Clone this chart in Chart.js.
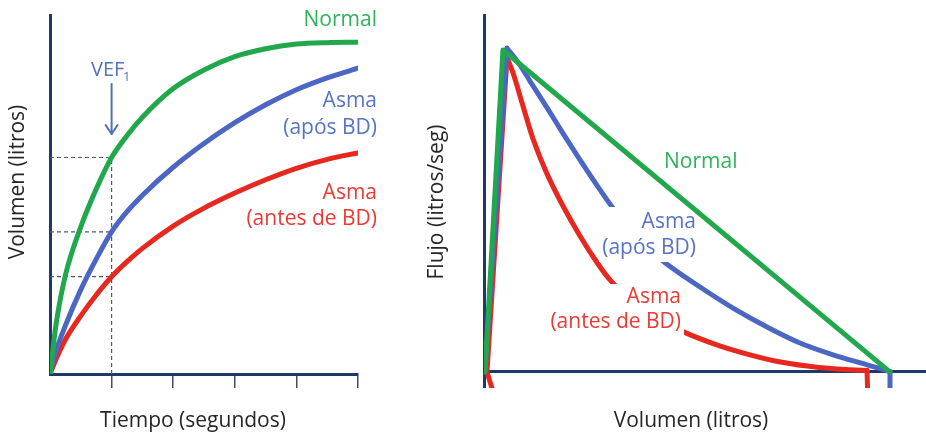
<!DOCTYPE html>
<html><head><meta charset="utf-8">
<script src="https://cdn.jsdelivr.net/npm/chart.js@4.4.1/dist/chart.umd.min.js"></script>
<style>
html,body{margin:0;padding:0;background:#fff;}
#wrap{position:relative;width:926px;height:434px;overflow:hidden;background:#fff;}
#c1{position:absolute;left:0;top:0;}
#c2{position:absolute;left:420px;top:0;}
</style></head><body>
<div id="wrap">
<canvas id="c1" width="420" height="434"></canvas>
<canvas id="c2" width="506" height="434"></canvas>
</div>
<script>
// ---------- Left panel: volume-time ----------
const timeSec     = [0, 0.1, 0.25, 0.5, 0.75, 1, 1.25, 1.5, 2, 2.5, 3, 3.5, 4, 4.5, 5];
const volNormal   = [0, 14, 27.5, 41, 51.5, 60.3, 66.4, 71.5, 79.5, 84.7, 88.4, 90.6, 91.9, 92.3, 92.4];
const volAsmaPost = [0, 6.5, 13.5, 23.5, 32, 39.6, 45.2, 49.8, 57.6, 64.2, 70, 75, 79.2, 82.5, 85.2];
const volAsmaPre  = [0, 4.2, 9.6, 16.2, 22, 27.1, 31.3, 35, 41.2, 46.2, 50.4, 54.1, 57.3, 59.8, 61.6];
const timeTicks   = [0, 1, 2, 3, 4, 5];
const fev1Time    = 1;

// ---------- Right panel: flow-volume ----------
const fvNormalVol    = [0.012, 0.236, 5.05];
const fvNormalFlow   = [0, 9.02, 0];
const fvPostRiseVol  = [0.012, 0.286];
const fvPostRiseFlow = [0, 9.07];
const fvPostVol      = [0.286, 0.423, 0.572, 0.78, 0.987, 1.195, 1.402, 1.605, 1.817, 2.066, 2.277, 2.688, 3.099, 3.522, 3.932, 4.343, 4.766, 5.052];
const fvPostFlow     = [9.07, 8.68, 8.15, 7.42, 6.67, 5.94, 5.24, 4.59, 4.0, 3.42, 3.02, 2.38, 1.79, 1.26, 0.81, 0.48, 0.20, 0.01];
const fvPostTailVol  = [5.052, 5.052];
const fvPostTailFlow = [0.01, -1];
const fvPreRiseVol   = [0.174, 0.037, 0.286];
const fvPreRiseFlow  = [-1, 0, 8.80];
const fvPreVol       = [0.286, 0.361, 0.485, 0.61, 0.78, 0.983, 1.195, 1.402, 1.568, 1.817, 2.128, 2.476, 2.896, 3.31, 3.708, 4.144, 4.554, 4.766];
const fvPreFlow      = [8.80, 8.38, 7.45, 6.53, 5.57, 4.65, 3.81, 3.08, 2.58, 2.02, 1.54, 1.13, 0.76, 0.48, 0.27, 0.13, 0.06, 0.04];
const fvPreTailVol   = [4.766, 4.78];
const fvPreTailFlow  = [0.04, -1];

const GREEN = '#21a84c', BLUE = '#4b67c3', RED = '#e6281f';
const GREEN_T = '#2db35a', BLUE_T = '#5673c6', RED_T = '#eb3a33';
const NAVY = '#1e3a6a', DASH = '#4d5a75', TITLE = '#262626';
const FONT = '"Open Sans", "Noto Sans", sans-serif';

const pts = (xs, ys) => xs.map((x, i) => ({x, y: ys[i]}));
const i1 = timeSec.indexOf(fev1Time);

function curve(data, color, extra) {
  return Object.assign({data, borderColor: color, backgroundColor: color, borderWidth: 5,
    pointRadius: 0, fill: false, borderCapStyle: 'round', borderJoinStyle: 'round'}, extra || {});
}
function dashed(data) {
  return {data, borderColor: DASH, borderWidth: 1.2, borderDash: [4, 3], pointRadius: 0, fill: false, tension: 0};
}

const leftDecor = {
  id: 'leftDecor',
  afterDatasetsDraw(chart) {
    const ctx = chart.ctx, xs = chart.scales.x;
    ctx.save();
    ctx.textBaseline = 'middle';
    ctx.font = '21px ' + FONT;
    ctx.textAlign = 'right';
    ctx.fillStyle = GREEN_T; ctx.fillText('Normal', 377, 20);
    ctx.fillStyle = BLUE_T; ctx.fillText('Asma', 377, 101); ctx.fillText('(após BD)', 377, 128);
    ctx.fillStyle = RED_T; ctx.fillText('Asma', 377, 193); ctx.fillText('(antes de BD)', 377, 219);
    // VEF1
    ctx.textAlign = 'left';
    ctx.fillStyle = '#5173b9';
    ctx.font = '20px ' + FONT;
    ctx.fillText('VEF', 91, 70);
    ctx.font = '13px ' + FONT;
    ctx.fillText('1', 123, 77);
    const ax = xs.getPixelForValue(fev1Time);
    ctx.strokeStyle = '#4f72b6'; ctx.lineWidth = 2; ctx.lineCap = 'round'; ctx.lineJoin = 'round';
    ctx.beginPath(); ctx.moveTo(ax, 84); ctx.lineTo(ax, 134); ctx.stroke();
    ctx.beginPath(); ctx.moveTo(ax - 6, 125); ctx.lineTo(ax, 134); ctx.lineTo(ax + 6, 125); ctx.stroke();
    // axis titles
    ctx.fillStyle = TITLE; ctx.font = '21px ' + FONT; ctx.textAlign = 'center';
    ctx.fillText('Tiempo (segundos)', 193, 421);
    ctx.translate(18, 182); ctx.rotate(-Math.PI / 2);
    ctx.fillText('Volumen (litros)', 0, 0);
    ctx.restore();
  }
};

new Chart(document.getElementById('c1'), {
  type: 'line',
  data: {
    datasets: [
      curve(pts(timeSec, volNormal), GREEN, {cubicInterpolationMode: 'monotone'}),
      curve(pts(timeSec, volAsmaPost), BLUE, {cubicInterpolationMode: 'monotone'}),
      curve(pts(timeSec, volAsmaPre), RED, {cubicInterpolationMode: 'monotone'}),
      dashed([{x: fev1Time, y: 0}, {x: fev1Time, y: volNormal[i1]}]),
      dashed([{x: 0, y: volNormal[i1]}, {x: fev1Time, y: volNormal[i1]}]),
      dashed([{x: 0, y: volAsmaPost[i1]}, {x: fev1Time, y: volAsmaPost[i1]}]),
      dashed([{x: 0, y: volAsmaPre[i1]}, {x: fev1Time, y: volAsmaPre[i1]}])
    ]
  },
  options: {
    responsive: false, animation: false, devicePixelRatio: 1,
    layout: {padding: {left: 50, right: 62, top: 15, bottom: 46}},
    plugins: {legend: {display: false}, tooltip: {enabled: false}},
    scales: {
      x: {type: 'linear', min: timeTicks[0], max: timeTicks[timeTicks.length - 1],
        afterBuildTicks: s => { s.ticks = timeTicks.map(v => ({value: v})); },
        ticks: {display: false},
        grid: {display: true, drawOnChartArea: false, drawTicks: true, tickLength: 14, lineWidth: 1.5,
          tickColor: c => c.tick && c.tick.value === 0 ? 'rgba(0,0,0,0)' : '#3e4f6c',
          color: c => c.tick && c.tick.value === 0 ? 'rgba(0,0,0,0)' : '#3e4f6c'},
        border: {display: true, color: NAVY, width: 3}},
      y: {type: 'linear', min: 0, max: 100,
        ticks: {display: false},
        grid: {display: false, drawTicks: false},
        border: {display: true, color: NAVY, width: 3}}
    }
  },
  plugins: [leftDecor]
});

const rightDecor = {
  id: 'rightDecor',
  afterDatasetDraw(chart, args) {
    if (args.index !== 1) return;
    const ctx = chart.ctx;
    ctx.save();
    ctx.fillStyle = '#ffffff';
    ctx.fillRect(179, 207, 99, 55);
    ctx.fillRect(126, 284, 138, 52);
    ctx.textBaseline = 'middle';
    ctx.font = '21px ' + FONT;
    ctx.textAlign = 'right';
    ctx.fillStyle = BLUE_T; ctx.fillText('Asma', 276, 222); ctx.fillText('(após BD)', 276, 248);
    ctx.fillStyle = RED_T; ctx.fillText('Asma', 261, 297); ctx.fillText('(antes de BD)', 261, 322);
    ctx.textAlign = 'left';
    ctx.fillStyle = GREEN_T; ctx.fillText('Normal', 244, 162);
    ctx.restore();
  },
  afterDatasetsDraw(chart) {
    const ctx = chart.ctx;
    ctx.save();
    ctx.fillStyle = TITLE; ctx.font = '21px ' + FONT; ctx.textAlign = 'center'; ctx.textBaseline = 'middle';
    ctx.fillText('Volumen (litros)', 271, 421);
    ctx.translate(17, 202); ctx.rotate(-Math.PI / 2);
    ctx.fillText('Flujo (litros/seg)', 0, 0);
    ctx.restore();
  }
};

new Chart(document.getElementById('c2'), {
  type: 'line',
  data: {
    datasets: [
      curve(pts(fvNormalVol, fvNormalFlow), GREEN, {tension: 0}),
      curve(pts(fvPostVol, fvPostFlow), BLUE, {tension: 0.3}),
      curve(pts(fvPostRiseVol, fvPostRiseFlow), BLUE, {tension: 0}),
      curve(pts(fvPostTailVol, fvPostTailFlow), BLUE, {tension: 0}),
      curve(pts(fvPreVol, fvPreFlow), RED, {tension: 0.3}),
      curve(pts(fvPreRiseVol, fvPreRiseFlow), RED, {tension: 0}),
      curve(pts(fvPreTailVol, fvPreTailFlow), RED, {tension: 0})
    ]
  },
  options: {
    responsive: false, animation: false, devicePixelRatio: 1,
    layout: {padding: {left: 64, right: 0, top: 15, bottom: 46}},
    plugins: {legend: {display: false}, tooltip: {enabled: false}},
    scales: {
      x: {type: 'linear', min: 0, max: 5.5, display: false},
      y: {type: 'linear', min: -0.45, max: 10,
        ticks: {display: false, stepSize: 1},
        grid: {display: true, drawOnChartArea: true, drawTicks: false,
          color: c => c.tick && c.tick.value === 0 ? NAVY : 'rgba(0,0,0,0)',
          lineWidth: c => c.tick && c.tick.value === 0 ? 3 : 0},
        border: {display: true, color: NAVY, width: 3}}
    }
  },
  plugins: [rightDecor]
});
</script>
</body></html>
